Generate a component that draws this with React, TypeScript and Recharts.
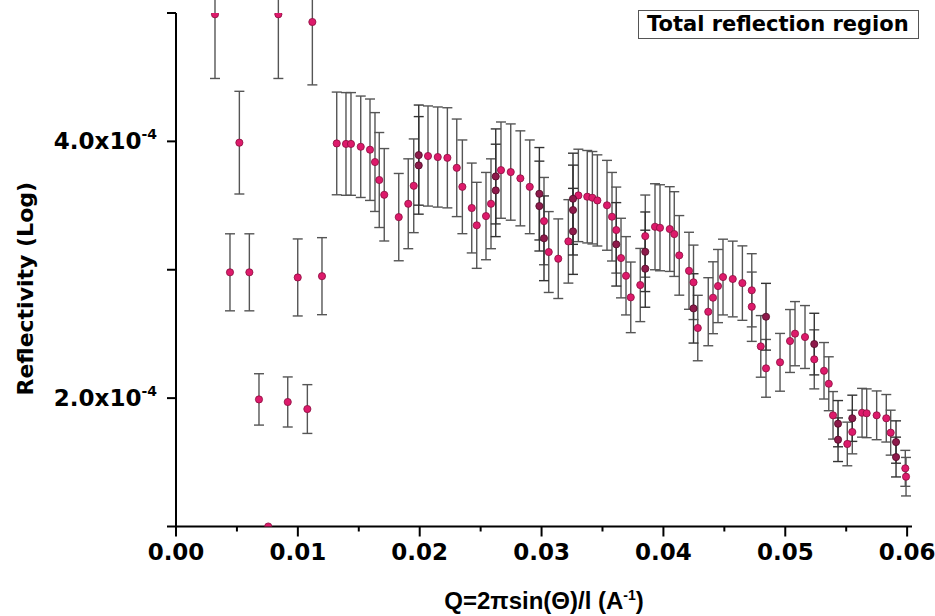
import React from 'react';
import { ScatterChart, Scatter, XAxis, YAxis, ErrorBar, Label } from 'recharts';

// Q values (A^-1), reflectivity and its uncertainty — main scan
const qMain = [
  0.0032, 0.00443, 0.0052, 0.00602, 0.00681, 0.00757, 0.0084, 0.00917, 0.00999, 0.01078,
  0.01119, 0.01198, 0.01319, 0.01395, 0.01436, 0.01516, 0.01592, 0.01633, 0.01668, 0.01709,
  0.01828, 0.01906, 0.01951, 0.02068, 0.02148, 0.02227, 0.02304, 0.0235, 0.02427, 0.02468,
  0.02544, 0.02585, 0.02667, 0.02747, 0.02826, 0.02903, 0.0302, 0.03059, 0.03137, 0.0322,
  0.03302, 0.03375, 0.03417, 0.03458, 0.03537, 0.03578, 0.03613, 0.03652, 0.03693, 0.03732,
  0.0381, 0.03851, 0.03931, 0.03972, 0.04052, 0.04089, 0.0413, 0.0421, 0.04247, 0.04282,
  0.04368, 0.04407, 0.04448, 0.04489, 0.04569, 0.04648, 0.04725, 0.04725, 0.04799, 0.04842,
  0.04957, 0.05039, 0.0508, 0.05162, 0.05238, 0.05318, 0.05357, 0.05392, 0.05509, 0.0555,
  0.0563, 0.05668, 0.0575, 0.05829, 0.05865, 0.05985, 0.05991,
];
const reflMain = [
  4.99e-4, 2.98e-4, 3.99e-4, 2.98e-4, 1.99e-4, 1.0e-4, 4.99e-4, 1.97e-4, 2.94e-4, 1.915e-4,
  4.93e-4, 2.95e-4, 3.984e-4, 3.98e-4, 3.98e-4, 3.958e-4, 3.935e-4, 3.839e-4, 3.699e-4, 3.584e-4,
  3.41e-4, 3.514e-4, 3.654e-4, 3.886e-4, 3.878e-4, 3.872e-4, 3.794e-4, 3.646e-4, 3.481e-4, 3.346e-4,
  3.418e-4, 3.514e-4, 3.776e-4, 3.761e-4, 3.712e-4, 3.646e-4, 3.379e-4, 3.138e-4, 3.086e-4, 3.221e-4,
  3.579e-4, 3.569e-4, 3.561e-4, 3.54e-4, 3.502e-4, 3.413e-4, 3.309e-4, 3.091e-4, 2.953e-4, 2.785e-4,
  2.881e-4, 3.262e-4, 3.335e-4, 3.327e-4, 3.317e-4, 3.278e-4, 3.112e-4, 2.992e-4, 2.902e-4, 2.546e-4,
  2.673e-4, 2.782e-4, 2.873e-4, 2.943e-4, 2.928e-4, 2.896e-4, 2.84e-4, 2.712e-4, 2.403e-4, 2.232e-4,
  2.279e-4, 2.445e-4, 2.502e-4, 2.476e-4, 2.302e-4, 2.213e-4, 2.112e-4, 1.866e-4, 1.643e-4, 1.736e-4,
  1.886e-4, 1.882e-4, 1.866e-4, 1.843e-4, 1.731e-4, 1.453e-4, 1.388e-4,
];
const errMain = [
  0.5e-4, 0.3e-4, 0.4e-4, 0.3e-4, 0.2e-4, 0, 0.5e-4, 0.195e-4, 0.3e-4, 0.19e-4,
  0.49e-4, 0.3e-4, 0.4e-4, 0.4e-4, 0.4e-4, 0.395e-4, 0.395e-4, 0.385e-4, 0.37e-4, 0.36e-4,
  0.34e-4, 0.35e-4, 0.365e-4, 0.39e-4, 0.39e-4, 0.39e-4, 0.38e-4, 0.365e-4, 0.35e-4, 0.335e-4,
  0.34e-4, 0.35e-4, 0.375e-4, 0.375e-4, 0.37e-4, 0.365e-4, 0.34e-4, 0.315e-4, 0.31e-4, 0.325e-4,
  0.36e-4, 0.36e-4, 0.36e-4, 0.355e-4, 0.35e-4, 0.345e-4, 0.335e-4, 0.31e-4, 0.305e-4, 0.275e-4,
  0.285e-4, 0.32e-4, 0.335e-4, 0.335e-4, 0.33e-4, 0.33e-4, 0.31e-4, 0.3e-4, 0.29e-4, 0.255e-4,
  0.265e-4, 0.28e-4, 0.285e-4, 0.295e-4, 0.295e-4, 0.29e-4, 0.285e-4, 0.27e-4, 0.24e-4, 0.225e-4,
  0.225e-4, 0.245e-4, 0.25e-4, 0.245e-4, 0.23e-4, 0.22e-4, 0.21e-4, 0.185e-4, 0.17e-4, 0.17e-4,
  0.19e-4, 0.19e-4, 0.19e-4, 0.185e-4, 0.175e-4, 0.14e-4, 0.15e-4,
];

// overlapping (repeated) measurements drawn darker
const qOverlap = [
  0.01992, 0.01992, 0.02624, 0.02624, 0.02982, 0.02982, 0.0302, 0.03258, 0.03258, 0.03258,
  0.03613, 0.03851, 0.03851, 0.04247, 0.04842, 0.05238, 0.05433, 0.05433, 0.0555, 0.05909, 0.05909,
];
const reflOverlap = [
  3.813e-4, 3.893e-4, 3.618e-4, 3.727e-4, 3.592e-4, 3.496e-4, 3.245e-4, 3.299e-4, 3.465e-4, 3.553e-4,
  3.198e-4, 3.008e-4, 3.14e-4, 2.699e-4, 2.634e-4, 2.421e-4, 1.801e-4, 1.676e-4, 1.843e-4, 1.658e-4, 1.541e-4,
];
const errOverlap = [
  0.38e-4, 0.39e-4, 0.36e-4, 0.37e-4, 0.36e-4, 0.35e-4, 0.33e-4, 0.335e-4, 0.35e-4, 0.355e-4,
  0.325e-4, 0.3e-4, 0.31e-4, 0.27e-4, 0.26e-4, 0.24e-4, 0.18e-4, 0.17e-4, 0.18e-4, 0.165e-4, 0.155e-4,
];

const xMajorTicks = [0, 0.01, 0.02, 0.03, 0.04, 0.05, 0.06];
const xMinorTicks = [0.005, 0.015, 0.025, 0.035, 0.045, 0.055];
const yTicks = [1e-4, 2e-4, 3e-4, 4e-4, 5e-4];
const yLabeledTicks = [2e-4, 4e-4];
const yExponent = '-4';
const xDomain = [0, 0.0604];
const yDomain = [1e-4, 5e-4];
const legendText = 'Total reflection region';
const yTitle = 'Reflectivity (Log)';

const mainData = qMain.map((q, i) => ({ q, r: reflMain[i], err: errMain[i] }));
const overlapData = qOverlap.map((q, i) => ({ q, r: reflOverlap[i], err: errOverlap[i] }));
const xTicks = [...xMajorTicks, ...xMinorTicks].sort((a, b) => a - b);

const TICK_FONT = '"DejaVu Sans", Verdana, sans-serif';

const XTick = (props: any) => {
  const { x, y, payload } = props;
  const v = payload.value as number;
  const major = xMajorTicks.some((t) => Math.abs(t - v) < 1e-9);
  return (
    <g>
      <line x1={x} x2={x} y1={y} y2={y + (major ? 10 : 5)} stroke="#000" strokeWidth={2} />
      {major && (
        <text x={x} y={y + 33} textAnchor="middle" fontFamily={TICK_FONT} fontSize={23} fontWeight="bold" fill="#000">
          {v.toFixed(2)}
        </text>
      )}
    </g>
  );
};

const YTick = (props: any) => {
  const { x, y, payload } = props;
  const v = payload.value as number;
  const labeled = yLabeledTicks.some((t) => Math.abs(t - v) < 1e-12);
  return (
    <g>
      <line x1={x - 9} x2={x} y1={y} y2={y} stroke="#000" strokeWidth={2} />
      {labeled && (
        <text x={x - 19} y={y + 8} textAnchor="end" fontFamily={TICK_FONT} fontSize={23} fontWeight="bold" fill="#000">
          {(v / 1e-4).toFixed(1) + 'x10'}
          <tspan dy={-10} fontSize={14}>{yExponent}</tspan>
        </text>
      )}
    </g>
  );
};

const PinkDot = (p: any) => (
  <circle cx={p.cx} cy={p.cy} r={3.6} fill="#dd1a6b" stroke="#8a0f3f" strokeWidth={0.8} />
);
const DarkDot = (p: any) => (
  <circle cx={p.cx} cy={p.cy} r={3.6} fill="#8e1a4b" stroke="#4f0b27" strokeWidth={0.8} />
);

const YTitle = (p: any) => {
  const vb = p.viewBox || { x: 0, y: 13, width: 176, height: 513 };
  const cx = vb.x + 25;
  const cy = vb.y + vb.height / 2 + 19;
  return (
    <text
      x={cx}
      y={cy}
      transform={`rotate(-90 ${cx} ${cy})`}
      textAnchor="middle"
      dominantBaseline="central"
      fontFamily={TICK_FONT}
      fontSize={22}
      fontWeight="bold"
      fill="#000"
    >
      {yTitle}
    </text>
  );
};

const XTitle = (p: any) => {
  const vb = p.viewBox || { x: 176, y: 526, width: 736, height: 90 };
  const cx = vb.x + vb.width / 2;
  const cy = vb.y + 82;
  return (
    <text x={cx} y={cy} textAnchor="middle" fontFamily='"Liberation Sans", Arial, sans-serif' fontSize={24} fontWeight="bold" fill="#000">
      {'Q=2\u03C0sin(\u0398)/l (A'}
      <tspan dy={-9} fontSize={14}>-1</tspan>
      <tspan dy={9}>)</tspan>
    </text>
  );
};

export default function App() {
  return (
    <div style={{ position: 'absolute', left: 0, top: 0, width: 935, height: 616, background: '#fff' }}>
      <ScatterChart width={935} height={616} margin={{ top: 13, right: 23, left: 0, bottom: 0 }}>
        <XAxis
          type="number"
          dataKey="q"
          domain={xDomain}
          ticks={xTicks}
          interval={0}
          allowDataOverflow
          tickSize={0}
          tickMargin={0}
          tickLine={false}
          axisLine={{ stroke: '#000', strokeWidth: 2 }}
          tick={<XTick />}
          height={89.5}
        >
          <Label content={<XTitle />} />
        </XAxis>
        <YAxis
          type="number"
          dataKey="r"
          domain={yDomain}
          ticks={yTicks}
          interval={0}
          allowDataOverflow
          tickSize={0}
          tickMargin={0}
          tickLine={false}
          axisLine={{ stroke: '#000', strokeWidth: 2 }}
          tick={<YTick />}
          width={176}
        >
          <Label content={<YTitle />} />
        </YAxis>
        <Scatter data={mainData} shape={<PinkDot />} isAnimationActive={false}>
          <ErrorBar dataKey="err" direction="y" width={5} stroke="#555" strokeWidth={1.4} isAnimationActive={false} />
        </Scatter>
        <Scatter data={overlapData} shape={<DarkDot />} isAnimationActive={false}>
          <ErrorBar dataKey="err" direction="y" width={5} stroke="#333" strokeWidth={1.4} isAnimationActive={false} />
        </Scatter>
      </ScatterChart>
      <div
        style={{
          position: 'absolute',
          left: 638,
          top: 10,
          width: 281,
          height: 29,
          boxSizing: 'border-box',
          border: '1.5px solid #555',
          fontFamily: TICK_FONT,
          fontWeight: 'bold',
          fontSize: 21,
          lineHeight: '26px',
          paddingLeft: 8,
          color: '#000',
          whiteSpace: 'nowrap',
        }}
      >
        {legendText}
      </div>
    </div>
  );
}
